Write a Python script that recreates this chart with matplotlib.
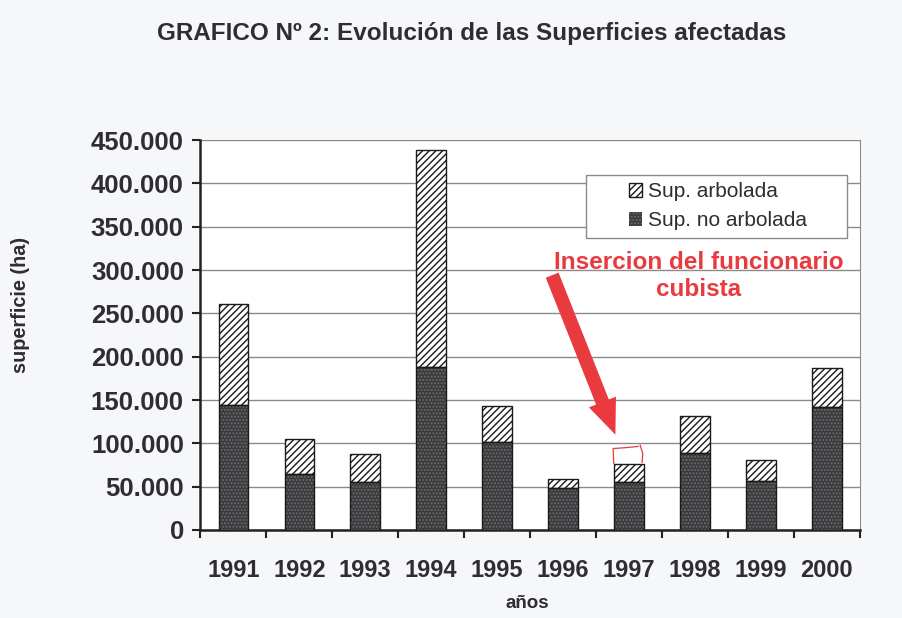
import numpy as np
import matplotlib.pyplot as plt
from matplotlib.patches import Rectangle
from matplotlib.ticker import FuncFormatter, FixedLocator

# datos (ha)
anios = ['1991', '1992', '1993', '1994', '1995', '1996', '1997', '1998', '1999', '2000']
no_arbolada = [144000, 65000, 55000, 188000, 101000, 49000, 55000, 89000, 57000, 142000]
total = [261000, 105000, 88000, 438000, 143000, 59000, 76000, 132000, 81000, 187000]
arbolada = [t - n for t, n in zip(total, no_arbolada)]

plt.rcParams['font.family'] = ['Liberation Sans', 'DejaVu Sans']
plt.rcParams['hatch.linewidth'] = 1.0
txt = '#2e2e30'

fig = plt.figure(figsize=(9.03, 6.18), dpi=100, facecolor='#f6f7f9')
ax = fig.add_axes([0.222, 0.1424, 0.730, 0.631])
ax.set_facecolor('white')

x = np.arange(len(anios))
ancho = 0.45
# relleno punteado oscuro + contorno negro aparte
b1 = ax.bar(x, no_arbolada, ancho, color='#3a3a3c', edgecolor='#6c6c6e',
            hatch='.....', linewidth=0, label='Sup. no arbolada', zorder=3)
ax.bar(x, no_arbolada, ancho, fill=False, edgecolor='#1a1a1a', linewidth=1, zorder=4)
b2 = ax.bar(x, arbolada, ancho, bottom=no_arbolada, color='white',
            edgecolor='#1a1a1a', hatch='/////', linewidth=1,
            label='Sup. arbolada', zorder=3)

ax.set_xlim(-0.5, len(anios) - 0.5)
ax.set_ylim(0, 450000)
ax.set_yticks(np.arange(0, 450001, 50000))
ax.yaxis.set_major_formatter(FuncFormatter(lambda v, p: f'{int(v):,}'.replace(',', '.')))
ax.grid(axis='y', color='#8a8a8a', linewidth=1, zorder=0)

ax.set_xticks(x)
ax.set_xticklabels(anios)
ax.xaxis.set_minor_locator(FixedLocator(np.arange(-0.5, len(anios), 1)))
ax.tick_params(axis='x', which='major', length=0, pad=21, labelsize=17, labelcolor=txt)
ax.tick_params(axis='x', which='minor', length=6, width=1.5, color='#222222')
ax.tick_params(axis='y', length=6, width=1.5, color='#222222', pad=6,
               labelsize=18.5, labelcolor=txt)
for lab in ax.get_xticklabels() + ax.get_yticklabels():
    lab.set_fontweight('bold')

for s in ['left', 'bottom']:
    ax.spines[s].set_linewidth(1.8)
    ax.spines[s].set_color('#222222')
ax.spines['top'].set_visible(False)
ax.spines['right'].set_color('#8a8a8a')

ax.set_ylabel('superficie (ha)', fontsize=14.3, fontweight='bold', color=txt)
ax.yaxis.set_label_coords(-0.259, 0.577)
ax.set_xlabel('años', fontsize=13.5, fontweight='bold', color=txt)
ax.xaxis.set_label_coords(0.496, -0.166)

fig.text(0.522, 0.946, 'GRAFICO Nº 2: Evolución de las Superficies afectadas',
         ha='center', va='center', fontsize=17.5, fontweight='bold', color=txt)

# leyenda centrada dentro de un recuadro mas ancho (estilo Excel)
ax.add_patch(Rectangle((0.5856, 0.749), 0.3955, 0.161, transform=ax.transAxes,
                       facecolor='white', edgecolor='#8a8a8a', linewidth=1, zorder=5))
leg = ax.legend([b2, b1], ['Sup. arbolada', 'Sup. no arbolada'], loc='center',
                bbox_to_anchor=(0.785, 0.83), fontsize=15, frameon=False,
                handlelength=0.65, handleheight=0.65, handletextpad=0.3,
                borderpad=0, labelspacing=0.47, borderaxespad=0)
for t in leg.get_texts():
    t.set_color(txt)
leg.set_zorder(6)

rojo = '#e83a3f'
ax.annotate('', xy=(5.81, 107000), xytext=(4.82, 297000),
            arrowprops=dict(arrowstyle='simple,head_length=1.15,head_width=0.95,tail_width=0.45',
                            color=rojo, lw=0, mutation_scale=22), zorder=7)
ax.text(7.06, 309000, 'Insercion del funcionario', ha='center', va='center',
        fontsize=17.5, fontweight='bold', color=rojo, zorder=7)
ax.text(7.06, 277000, 'cubista', ha='center', va='center',
        fontsize=17.5, fontweight='bold', color=rojo, zorder=7)

# garabato a mano sobre la barra de 1997
ax.plot([5.77, 5.76, 5.95, 6.14], [77000, 94000, 95000, 96500], color=rojo, lw=0.9, zorder=7)
ax.plot([6.17, 6.21, 6.20], [98000, 88000, 78000], color=rojo, lw=0.9, zorder=7)

fig.savefig('out.png', dpi=100, facecolor=fig.get_facecolor())
